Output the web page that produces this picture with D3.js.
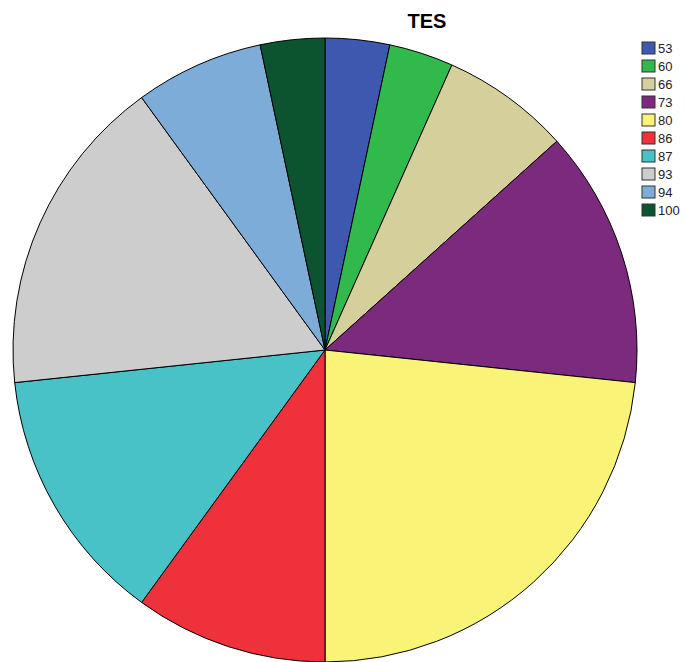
<!DOCTYPE html>
<html>
<head>
    <meta charset="utf-8">
    <title>TES</title>
    <script src="https://d3js.org/d3.v7.min.js"></script>
    <style>
        body {
            margin: 0;
            background-color: white;
            font-family: Arial, "Liberation Sans", sans-serif;
        }
        svg {
            display: block;
        }
        .slice {
            stroke: black;
            stroke-width: 1px;
        }
        .legend text {
            font-size: 13px;
            fill: #222;
        }
    </style>
</head>
<body>
    <svg width="685" height="662"></svg>

    <script>
        const categories = ["53", "60", "66", "73", "80", "86", "87", "93", "94", "100"];
        const counts = [1, 1, 2, 4, 7, 3, 4, 5, 2, 1];
        const colors = ["#3d58ae", "#31b94b", "#d4cf9b", "#7b2a7e", "#f9f478",
                        "#ee313a", "#48c1c7", "#cdcdcd", "#7eacd8", "#0c5430"];

        const data = categories.map((c, i) => ({ label: c, value: counts[i], color: colors[i] }));

        const svg = d3.select("svg"),
              cx = 325,
              cy = 350,
              radius = 312;

        // Title
        svg.append("text")
           .attr("x", 427)
           .attr("y", 28)
           .attr("text-anchor", "middle")
           .attr("font-size", "20px")
           .attr("font-weight", "bold")
           .text("TES");

        // Pie
        const pie = d3.pie()
                      .value(d => d.value)
                      .sort(null);

        const arc = d3.arc()
                      .innerRadius(0)
                      .outerRadius(radius);

        const g = svg.append("g").attr("transform", `translate(${cx},${cy})`);

        g.selectAll(".slice")
         .data(pie(data))
         .enter()
         .append("path")
         .attr("class", "slice")
         .attr("d", arc)
         .attr("fill", d => d.data.color);

        // Legend
        const legend = svg.append("g")
                          .attr("class", "legend")
                          .attr("transform", "translate(642,42)");

        const rows = legend.selectAll("g")
                           .data(data)
                           .enter()
                           .append("g")
                           .attr("transform", (d, i) => `translate(0,${i * 18})`);

        rows.append("rect")
            .attr("width", 13)
            .attr("height", 12)
            .attr("fill", d => d.color)
            .attr("stroke", "#333")
            .attr("stroke-width", 1);

        rows.append("text")
            .attr("x", 16)
            .attr("y", 11)
            .text(d => d.label);
    </script>
</body>
</html>
